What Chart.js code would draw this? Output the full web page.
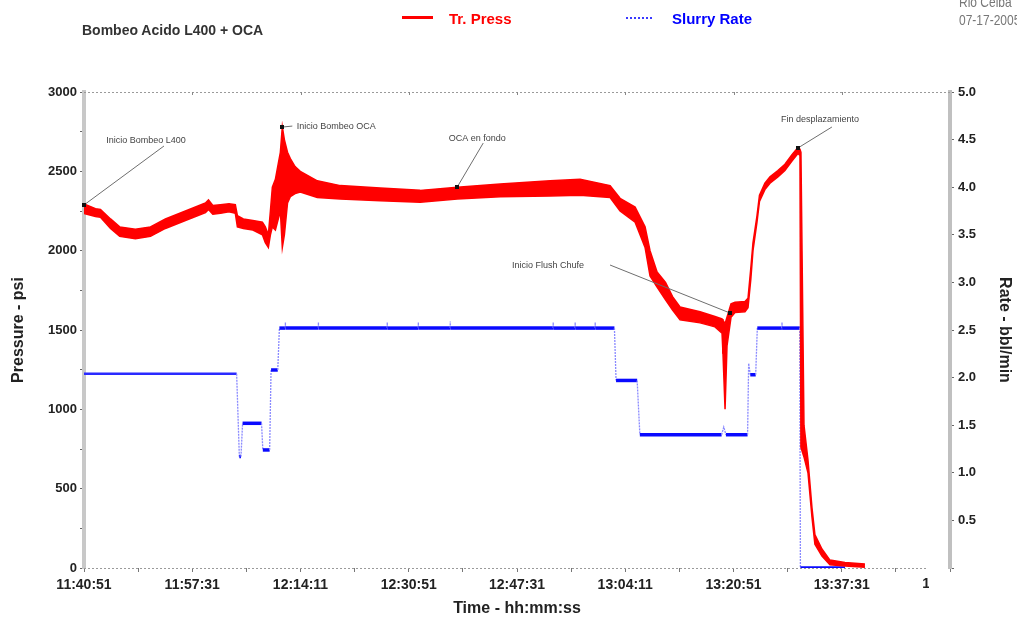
<!DOCTYPE html>
<html>
<head>
<meta charset="utf-8">
<script src="https://cdn.jsdelivr.net/npm/chart.js@4.4.0/dist/chart.umd.min.js"></script>
<style>
  html, body { margin: 0; padding: 0; background: #fff; overflow: hidden; }
  #wrap { position: relative; width: 1017px; height: 621px; overflow: hidden; }
  #c { position: absolute; left: 0; top: 0; }
  .hdr { position: absolute; white-space: nowrap; font-family: 'Liberation Sans', Arial, sans-serif; }
  .site { font-size: 12px; line-height: 14px; color: #777; transform: scaleY(1.25); transform-origin: left top; }
</style>
</head>
<body>
<div id="wrap">
  <canvas id="c" width="1017" height="621"></canvas>
  <div class="hdr" style="left:82px;top:22px;font-weight:bold;font-size:14px;color:#333;">Bombeo Acido L400 + OCA</div>
  <div class="hdr" style="left:402px;top:16px;width:31px;height:3px;background:#ff0000;"></div>
  <div class="hdr" style="left:449px;top:10px;font-weight:bold;font-size:15px;line-height:18px;color:#ff0000;">Tr. Press</div>
  <div class="hdr" style="left:626px;top:17px;width:26px;height:0;border-top:2px dotted #3a3aff;"></div>
  <div class="hdr" style="left:672px;top:10px;font-weight:bold;font-size:15px;line-height:18px;color:#0000ff;">Slurry Rate</div>
  <div class="hdr site" style="left:959px;top:-7px;">Rio Ceiba</div>
  <div class="hdr site" style="left:959px;top:11px;">07-17-2005</div>
</div>
<script>
// Job start clock time (11:40:51) in seconds of the day; all times below are elapsed seconds.
const startClock = 11 * 3600 + 40 * 60 + 51;

// Treating pressure (psi): the trace is noisy, so it is kept as a lower and upper envelope.
const pTime = [0,106,152,245,330,475,614,752,937,1122,1150,1190,1260,1340,1398,1417,1472,1560,1648,1675,
  1703,1722,1740,1768,1795,1814,1832,1851,1880,1906,1950,1998,2155,2368,2737,3106,3448,3845,4306,4583,
  4860,4952,5091,5183,5229,5294,5372,5437,5506,5691,5829,5894,5903,5922,5940,5977,6014,6106,6134,6160,
  6180,6217,6240,6290,6337,6410,6475,6540,6595,6614,6623,6651,6688,6725,6752,6817,6891,7029,7214];
const pLow = [2235,2215,2210,2140,2090,2075,2090,2140,2190,2240,2260,2230,2235,2245,2235,2150,2140,2130,2100,2050,
  2020,2100,2150,2130,2200,2250,2020,2100,2300,2340,2360,2370,2335,2325,2315,2305,2325,2340,2345,2350,
  2335,2250,2180,2020,1840,1770,1690,1625,1565,1545,1520,1480,1350,1000,1400,1580,1610,1615,1640,1820,
  2000,2180,2310,2385,2425,2465,2505,2565,2612,2600,760,700,600,320,150,75,20,12,5];
const pHigh = [2295,2265,2260,2200,2150,2135,2150,2200,2250,2300,2320,2285,2290,2295,2290,2220,2200,2190,2180,2150,
  2100,2250,2400,2450,2550,2620,2780,2700,2620,2580,2530,2500,2440,2410,2395,2380,2400,2420,2440,2450,
  2410,2330,2275,2150,2000,1865,1800,1710,1645,1615,1585,1570,1560,1540,1580,1665,1675,1680,1700,1890,
  2050,2220,2350,2425,2465,2505,2545,2605,2650,2640,2620,900,680,380,210,120,50,35,25];

// Slurry rate (bbl/min), including the short recorder blips on the steady stages
const rTime = [0,1410,1435,1450,1465,1640,1652,1715,1728,1790,1805,
  1859,1860,1861,2164,2165,2166,2800,2801,2802,3087,3088,3089,3382,3383,3384,
  4333,4334,4335,4536,4537,4538,4721,4722,4723,
  4900,4915,5110,5135,5890,5910,5930,6130,6140,
  6155,6205,6220,6447,6448,6449,6612,6618,7030];
const rate = [2.04,2.04,1.17,1.17,1.52,1.52,1.24,1.24,2.08,2.08,2.52,
  2.52,2.58,2.52,2.52,2.58,2.52,2.52,2.58,2.52,2.52,2.58,2.52,2.52,2.59,2.52,
  2.52,2.58,2.52,2.52,2.58,2.52,2.52,2.58,2.52,
  2.52,1.97,1.97,1.40,1.40,1.48,1.40,1.40,2.15,
  2.03,2.03,2.52,2.52,2.58,2.52,2.52,0,0];

// Job event notes, pinned on the pressure trace
const noteText = ['Inicio Bombeo L400', 'Inicio Bombeo OCA', 'OCA en fondo', 'Inicio Flush Chufe', 'Fin desplazamiento'];
const noteTime = [0, 1832, 3448, 5968, 6595];
const notePress = [2288, 2779, 2401, 1607, 2647];

// Axis ticks
const xTickStep = 500, xMax = 8000;
const pTickStep = 250, pMax = 3000;
const rTickStep = 0.5, rMax = 5;

const FONT = "'Liberation Sans', Arial, sans-serif";

function clock(sec) {
  const s = startClock + sec;
  const h = Math.floor(s / 3600), m = Math.floor((s % 3600) / 60), ss = s % 60;
  return h + ':' + String(m).padStart(2, '0') + ':' + String(ss).padStart(2, '0');
}

// where each note's text and leader end sit, relative to its pinned point (px)
const noteLayout = [
  { tx: 62, ty: -64, lx: 80, ly: -59 },
  { tx: 54, ty: -1, lx: 10, ly: -1 },
  { tx: 20, ty: -49, lx: 26, ly: -44 },
  { tx: -182, ty: -48, lx: -120, ly: -48 },
  { tx: 22, ty: -28, lx: 34, ly: -21 }
];

const framePlugin = {
  id: 'frame',
  afterDraw(chart) {
    const { ctx, chartArea: a, scales } = chart;
    const xs = scales.x, ys = scales.y;
    ctx.save();
    // dotted top frame and bottom time axis
    ctx.strokeStyle = '#9a9a9a';
    ctx.lineWidth = 1;
    ctx.setLineDash([2, 2]);
    ctx.beginPath();
    ctx.moveTo(a.left, a.top + 0.5); ctx.lineTo(a.right, a.top + 0.5);
    ctx.moveTo(a.left, a.bottom + 0.5); ctx.lineTo(928, a.bottom + 0.5);
    ctx.stroke();
    ctx.setLineDash([]);
    // small ticks under the top frame
    ctx.strokeStyle = '#888';
    ctx.beginPath();
    for (let v = 1000; v < xMax; v += 1000) {
      const px = Math.round(xs.getPixelForValue(v)) + 0.5;
      ctx.moveTo(px, a.top); ctx.lineTo(px, a.top + 3);
    }
    ctx.stroke();

    // last time label, cut off at the end of the axis line
    ctx.save();
    ctx.beginPath();
    ctx.rect(0, a.bottom, 929, chart.height - a.bottom);
    ctx.clip();
    ctx.fillStyle = '#222';
    ctx.font = 'bold 14px ' + FONT;
    ctx.textAlign = 'center';
    ctx.textBaseline = 'top';
    ctx.fillText(clock(xMax), xs.getPixelForValue(xMax), a.bottom + 9);
    ctx.restore();

    // event notes
    ctx.font = '9px ' + FONT;
    ctx.textAlign = 'center';
    ctx.textBaseline = 'middle';
    noteText.forEach((txt, i) => {
      const px = xs.getPixelForValue(noteTime[i]);
      const py = ys.getPixelForValue(notePress[i]);
      const L = noteLayout[i];
      ctx.strokeStyle = '#6e6e6e';
      ctx.lineWidth = 1;
      ctx.beginPath();
      ctx.moveTo(px, py);
      ctx.lineTo(px + L.lx, py + L.ly);
      ctx.stroke();
      ctx.fillStyle = '#111';
      ctx.fillRect(Math.round(px) - 2, Math.round(py) - 2, 4, 4);
      ctx.fillStyle = '#444';
      ctx.fillText(txt, px + L.tx, py + L.ty);
    });
    ctx.restore();
  }
};

const tickFont = { family: FONT, size: 13, weight: 'bold' };
const titleFont = { family: FONT, size: 16, weight: 'bold' };
const isRise = c => Math.abs(c.p1.parsed.y - c.p0.parsed.y) > 0.05;

new Chart(document.getElementById('c'), {
  type: 'line',
  data: {
    datasets: [
      {
        label: 'Tr. Press (low)',
        data: pTime.map((t, i) => ({ x: t, y: pLow[i] })),
        yAxisID: 'y',
        borderColor: '#ff0000',
        borderWidth: 1.5,
        pointRadius: 0,
        tension: 0,
        fill: false
      },
      {
        label: 'Tr. Press',
        data: pTime.map((t, i) => ({ x: t, y: pHigh[i] })),
        yAxisID: 'y',
        borderColor: '#ff0000',
        backgroundColor: '#ff0000',
        borderWidth: 1.5,
        pointRadius: 0,
        tension: 0,
        fill: '-1'
      },
      {
        label: 'Slurry Rate',
        data: rTime.map((t, i) => ({ x: t, y: rate[i] })),
        yAxisID: 'y1',
        borderColor: '#0a0aff',
        borderWidth: 3.5,
        pointRadius: 0,
        tension: 0,
        fill: false,
        segment: {
          borderColor: c => isRise(c) ? '#8a8aff' : (c.p1.parsed.x <= 1410 ? '#2a2aff' : '#0a0aff'),
          borderWidth: c => isRise(c) ? 1.3 : (c.p1.parsed.x <= 1410 ? 2.5 : 3.5),
          borderDash: c => isRise(c) ? [2, 1] : undefined
        }
      }
    ]
  },
  options: {
    responsive: false,
    animation: false,
    layout: { padding: { top: 92, left: 0, right: 0, bottom: 0 } },
    plugins: { legend: { display: false }, tooltip: { enabled: false } },
    scales: {
      x: {
        type: 'linear',
        min: 0,
        max: xMax,
        afterFit(s) { s.height = 53; },
        border: { display: false },
        grid: { drawOnChartArea: false, drawTicks: true, tickLength: 4, color: '#777' },
        ticks: {
          stepSize: xTickStep,
          autoSkip: false,
          maxRotation: 0,
          padding: 5,
          color: '#222',
          font: { family: FONT, size: 14, weight: 'bold' },
          callback: v => (v % 1000 === 0 && v < xMax) ? clock(v) : ''
        },
        title: { display: true, text: 'Time - hh:mm:ss', color: '#222', font: titleFont, padding: { top: 0, bottom: 3 } }
      },
      y: {
        position: 'left',
        min: 0,
        max: pMax,
        afterFit(s) { s.width = 84; },
        border: { display: true, color: '#c8c8c8', width: 4 },
        grid: { drawOnChartArea: false, drawTicks: true, tickLength: 4, color: '#666' },
        ticks: {
          stepSize: pTickStep,
          padding: 3,
          color: '#222',
          font: tickFont,
          callback: v => v % 500 === 0 ? String(v) : ''
        },
        title: { display: true, text: 'Pressure - psi', color: '#222', font: titleFont, padding: { top: 9, bottom: 0 } }
      },
      y1: {
        position: 'right',
        min: 0,
        max: rMax,
        afterFit(s) { s.width = 67; },
        border: { display: true, color: '#c0c0c0', width: 4 },
        grid: { drawOnChartArea: false, drawTicks: true, tickLength: 4, color: '#666' },
        ticks: {
          stepSize: rTickStep,
          padding: 4,
          color: '#222',
          font: tickFont,
          callback: v => v === 0 ? '' : Number(v).toFixed(1)
        },
        title: { display: true, text: 'Rate - bbl/min', color: '#222', font: titleFont, padding: { top: 3, bottom: 0 } }
      }
    }
  },
  plugins: [framePlugin]
});
</script>
</body>
</html>
